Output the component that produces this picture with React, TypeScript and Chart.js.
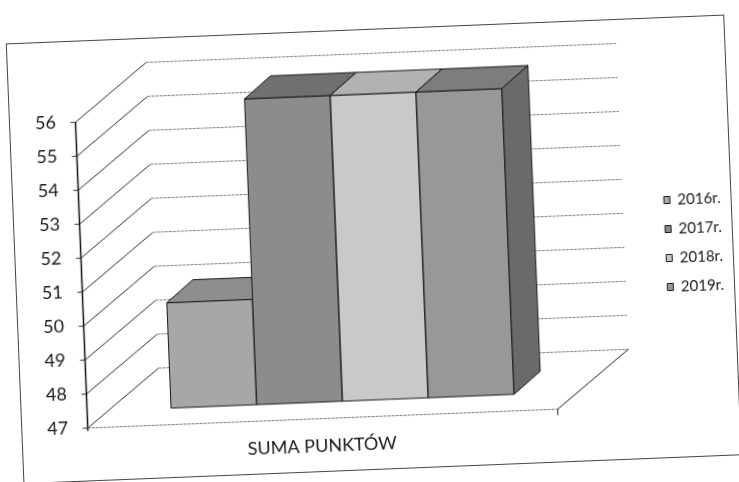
import React, { useEffect, useRef } from 'react';
import { Chart, registerables } from 'chart.js';

Chart.register(...registerables);

// ---- data ----
const categories = ['SUMA PUNKTÓW'];
const seriesLabels = ['2016r.', '2017r.', '2018r.', '2019r.'];
const values2016 = [50.1];
const values2017 = [56];
const values2018 = [56];
const values2019 = [56];
const yMin = 47;
const yMax = 56;
const yStep = 1;

// ---- styles ----
const frontColors = ['#a7a7a7', '#8c8c8c', '#c9c9c9', '#989898'];
const topColors = ['#8e8e8e', '#707070', '#b2b2b2', '#7d7d7d'];
const sideColors = ['#7c7c7c', '#626262', '#a2a2a2', '#6a6a6a'];
const FONT = 'Lato, "Open Sans", sans-serif';

// 3D geometry (pixels)
const FRONT_DX = -20.5; // bar plane -> front axis plane
const FRONT_DY = 16.6;
const WALL_DX = 73; // front plane -> back wall
const WALL_DY = -57;
const BAR_DX = 27; // bar depth
const BAR_DY = -22;

const frame3d = {
  id: 'frame3d',
  beforeDraw(chart: any) {
    const ctx = chart.ctx;
    ctx.save();
    ctx.fillStyle = '#ffffff';
    ctx.fillRect(0, 0, chart.width, chart.height);
    ctx.strokeStyle = '#444';
    ctx.lineWidth = 1;
    ctx.strokeRect(14.5, 29.5, 718, 440);
    ctx.restore();
  },
  beforeDatasetsDraw(chart: any) {
    const ctx = chart.ctx;
    const area = chart.chartArea;
    const ys = chart.scales.y;
    const fx = area.left + FRONT_DX;
    const rx = area.right + FRONT_DX + WALL_DX;
    ctx.save();
    ys.ticks.forEach((t: any) => {
      const p = ys.getPixelForValue(t.value);
      const fy = p + FRONT_DY;
      const bx = fx + WALL_DX;
      const by = fy + WALL_DY;
      ctx.setLineDash([]);
      ctx.strokeStyle = '#333';
      ctx.lineWidth = 1;
      ctx.beginPath();
      ctx.moveTo(fx, fy);
      ctx.lineTo(bx, by);
      ctx.stroke();
      ctx.strokeStyle = '#7a7a7a';
      ctx.setLineDash([3, 1]);
      ctx.beginPath();
      ctx.moveTo(bx, by);
      ctx.lineTo(rx, by);
      ctx.stroke();
      ctx.setLineDash([]);
      ctx.strokeStyle = '#333';
      ctx.beginPath();
      ctx.moveTo(fx - 5, fy);
      ctx.lineTo(fx, fy);
      ctx.stroke();
    });
    const yTop = ys.getPixelForValue(yMax) + FRONT_DY;
    const yBot = ys.getPixelForValue(yMin) + FRONT_DY;
    ctx.strokeStyle = '#111';
    ctx.lineWidth = 1.5;
    ctx.beginPath();
    ctx.moveTo(fx, yTop);
    ctx.lineTo(fx, yBot + 3);
    ctx.stroke();
    const frx = area.right + FRONT_DX;
    ctx.lineWidth = 1;
    ctx.strokeStyle = '#777';
    ctx.setLineDash([3, 1]);
    ctx.beginPath();
    ctx.moveTo(fx, yBot);
    ctx.lineTo(frx, yBot);
    ctx.stroke();
    ctx.setLineDash([]);
    ctx.strokeStyle = '#222';
    ctx.beginPath();
    ctx.moveTo(frx, yBot + 6);
    ctx.lineTo(frx, yBot);
    ctx.lineTo(rx, yBot + WALL_DY);
    ctx.stroke();
    ctx.restore();
  },
  afterDatasetsDraw(chart: any) {
    const ctx = chart.ctx;
    const area = chart.chartArea;
    const metas = chart.getSortedVisibleDatasetMetas();
    ctx.save();
    metas.forEach((meta: any) => {
      const i = meta.index;
      meta.data.forEach((bar: any) => {
        const { x, y, base, width } = bar.getProps(['x', 'y', 'base', 'width'], true);
        const l = x - width / 2;
        const r = x + width / 2;
        const t = Math.max(area.top, Math.min(y, base));
        const b = Math.min(area.bottom, Math.max(y, base));
        ctx.lineWidth = 1;
        ctx.strokeStyle = '#1a1a1a';
        ctx.fillStyle = frontColors[i];
        ctx.beginPath();
        ctx.rect(l, t, r - l, b - t);
        ctx.fill();
        ctx.stroke();
        ctx.fillStyle = topColors[i];
        ctx.beginPath();
        ctx.moveTo(l, t);
        ctx.lineTo(l + BAR_DX, t + BAR_DY);
        ctx.lineTo(r + BAR_DX, t + BAR_DY);
        ctx.lineTo(r, t);
        ctx.closePath();
        ctx.fill();
        ctx.stroke();
        ctx.fillStyle = sideColors[i];
        ctx.beginPath();
        ctx.moveTo(r, t);
        ctx.lineTo(r + BAR_DX, t + BAR_DY);
        ctx.lineTo(r + BAR_DX, b + BAR_DY);
        ctx.lineTo(r, b);
        ctx.closePath();
        ctx.fill();
        ctx.stroke();
      });
    });
    ctx.restore();
  },
};

export default function App() {
  const ref = useRef<HTMLCanvasElement | null>(null);
  useEffect(() => {
    if (!ref.current) return;
    const seriesValues = [values2016, values2017, values2018, values2019];
    const chart = new Chart(ref.current, {
      type: 'bar',
      data: {
        labels: categories,
        datasets: seriesLabels.map((label, i) => ({
          label,
          data: seriesValues[i],
          base: yMin,
          backgroundColor: frontColors[i],
          borderColor: '#1a1a1a',
          borderWidth: 1,
          categoryPercentage: 0.73,
          barPercentage: 1,
        })),
      },
      options: {
        responsive: false,
        animation: false,
        devicePixelRatio: 1,
        layout: { padding: { top: 56, bottom: 27, left: 15, right: 7 } },
        scales: {
          x: {
            grid: { display: false, drawTicks: false },
            border: { display: false },
            ticks: {
              padding: 33,
              labelOffset: -22,
              color: '#1a1a1a',
              font: { family: FONT, size: 18 },
            },
            afterFit: (s: any) => {
              s.height = 55;
            },
          },
          xTop: {
            type: 'category',
            position: 'top',
            display: true,
            grid: { display: false, drawTicks: false },
            border: { display: false },
            ticks: { display: false },
            afterFit: (s: any) => {
              s.height = 38;
            },
          },
          y: {
            min: yMin,
            max: yMax,
            grid: { display: false, drawTicks: false },
            border: { display: false },
            ticks: {
              stepSize: yStep,
              padding: 40,
              labelOffset: 16.6,
              color: '#1a1a1a',
              font: { family: FONT, size: 18 },
            },
            afterFit: (s: any) => {
              s.width = 86;
            },
          },
          y2: {
            position: 'right',
            display: true,
            grid: { display: false, drawTicks: false },
            border: { display: false },
            ticks: { display: false },
            afterFit: (s: any) => {
              s.width = 80;
            },
          },
        },
        plugins: {
          legend: {
            position: 'right',
            align: 'center',
            labels: {
              boxWidth: 6,
              boxHeight: 7,
              padding: 14,
              color: '#1a1a1a',
              font: { family: FONT, size: 15 },
            },
          },
          tooltip: { enabled: false },
        },
      },
      plugins: [frame3d],
    } as any);
    return () => chart.destroy();
  }, []);
  return (
    <div
      style={{
        position: 'absolute',
        left: 0,
        top: 0,
        width: 739,
        height: 482,
        transform: 'rotate(-2.3deg)',
        transformOrigin: '50% 50%',
        background: '#fff',
      }}
    >
      <canvas ref={ref} width={739} height={482} style={{ display: 'block' }} />
    </div>
  );
}
